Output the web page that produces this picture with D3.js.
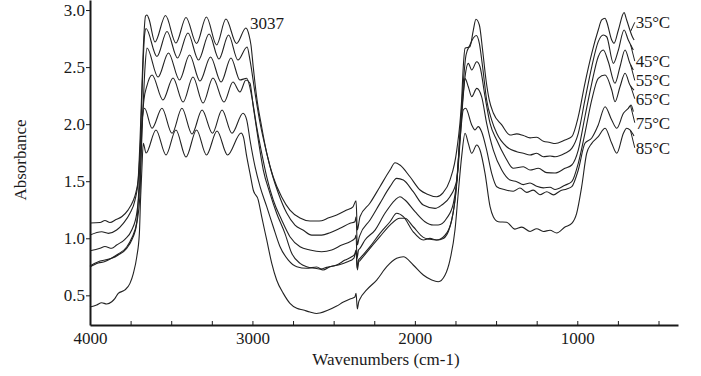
<!DOCTYPE html>
<html><head><meta charset="utf-8">
<script src="https://cdn.jsdelivr.net/npm/d3@7"></script>
<style>
body{margin:0;background:#fff}
svg{display:block}
svg text{font-family:"Liberation Serif","Times New Roman",serif !important;fill:#1a1a1a}
</style>
</head><body>
<svg id="c" width="701" height="376"></svg>
<script>
// ---------- data ----------
const temps = ["35°C","45°C","55°C","65°C","75°C","85°C"];
const xTicks = [4000,3750,3500,3250,3000,2750,2500,2250,2000,1750,1500,1250,1000,750,500];
const xTickLabels = [4000,3000,2000,1000];
const yTicks = [0.5,1.0,1.5,2.0,2.5,3.0];

const s35 = [[4000,1.134],[3938,1.138],[3908,1.156],[3877,1.138],[3840,1.164],[3803,1.191],[3766,1.247],[3735,1.326],[3717,1.405],[3704,1.510],[3692,1.861],[3680,2.343],[3668,2.781],[3658,2.948],[3649,2.957],[3637,2.921],[3600,2.720],[3535,2.952],[3471,2.711],[3409,2.935],[3344,2.707],[3283,2.939],[3221,2.694],[3163,2.921],[3098,2.707],[3040,2.843],[3021,2.781],[3009,2.694],[2995,2.501],[2974,2.238],[2943,1.975],[2912,1.747],[2872,1.537],[2820,1.362],[2769,1.247],[2707,1.177],[2646,1.151],[2604,1.151],[2574,1.154],[2535,1.177],[2481,1.204],[2420,1.247],[2381,1.276],[2362,1.329],[2354,1.072],[2344,1.142],[2338,1.189],[2276,1.309],[2215,1.452],[2153,1.598],[2122,1.662],[2092,1.642],[2030,1.539],[1968,1.423],[1927,1.388],[1865,1.364],[1827,1.397],[1784,1.510],[1742,1.773],[1712,2.212],[1702,2.501],[1691,2.665],[1661,2.679],[1640,2.825],[1624,2.919],[1603,2.869],[1583,2.650],[1562,2.387],[1542,2.212],[1517,2.098],[1465,1.993],[1414,1.905],[1373,1.915],[1332,1.900],[1291,1.880],[1250,1.885],[1209,1.850],[1168,1.840],[1137,1.830],[1076,1.862],[1034,1.890],[994,2.065],[953,2.358],[911,2.621],[871,2.825],[850,2.913],[829,2.928],[819,2.898],[788,2.737],[774,2.708],[747,2.825],[712,2.977],[696,2.913],[661,2.766],[650,2.737]];

const s45 = [[4000,1.028],[3928,1.057],[3887,1.043],[3836,1.072],[3795,1.131],[3754,1.219],[3723,1.335],[3703,1.510],[3689,1.861],[3677,2.387],[3664,2.781],[3655,2.838],[3588,2.593],[3526,2.812],[3461,2.580],[3397,2.799],[3332,2.562],[3267,2.790],[3206,2.571],[3147,2.781],[3089,2.562],[3033,2.676],[3015,2.562],[2984,2.273],[2953,2.010],[2912,1.747],[2881,1.572],[2841,1.397],[2789,1.221],[2738,1.116],[2689,1.072],[2635,1.028],[2574,1.028],[2522,1.049],[2461,1.087],[2399,1.131],[2369,1.145],[2362,1.189],[2354,0.941],[2344,1.002],[2338,1.028],[2276,1.160],[2215,1.306],[2153,1.452],[2112,1.525],[2071,1.510],[2010,1.408],[1948,1.291],[1876,1.262],[1835,1.291],[1784,1.364],[1742,1.510],[1722,1.922],[1702,2.358],[1685,2.606],[1661,2.694],[1640,2.755],[1622,2.777],[1603,2.708],[1583,2.503],[1558,2.212],[1527,2.036],[1496,1.920],[1435,1.802],[1373,1.759],[1332,1.745],[1291,1.730],[1250,1.745],[1209,1.715],[1168,1.721],[1137,1.715],[1076,1.745],[1034,1.788],[994,1.920],[953,2.212],[911,2.503],[871,2.723],[840,2.781],[819,2.766],[778,2.533],[747,2.650],[712,2.825],[686,2.737],[655,2.650]];

const s55 = [[4000,0.891],[3938,0.912],[3908,0.928],[3866,0.912],[3836,0.941],[3785,0.991],[3743,1.072],[3712,1.221],[3692,1.510],[3674,2.124],[3661,2.503],[3649,2.667],[3581,2.413],[3517,2.624],[3449,2.387],[3387,2.606],[3323,2.378],[3258,2.589],[3193,2.369],[3132,2.580],[3077,2.387],[3035,2.402],[3004,2.241],[2974,1.978],[2943,1.747],[2912,1.539],[2872,1.335],[2820,1.160],[2769,1.014],[2707,0.926],[2646,0.897],[2574,0.882],[2512,0.897],[2450,0.941],[2399,0.970],[2369,0.999],[2362,1.028],[2356,0.824],[2347,0.897],[2338,0.912],[2307,0.985],[2245,1.072],[2184,1.219],[2122,1.335],[2092,1.364],[2061,1.335],[1999,1.233],[1938,1.145],[1886,1.116],[1856,1.116],[1804,1.175],[1763,1.306],[1733,1.627],[1712,2.065],[1691,2.416],[1671,2.533],[1650,2.475],[1619,2.547],[1599,2.503],[1568,2.241],[1537,2.007],[1496,1.861],[1445,1.715],[1394,1.613],[1332,1.627],[1291,1.598],[1240,1.613],[1188,1.575],[1137,1.572],[1076,1.613],[1034,1.642],[994,1.773],[953,2.065],[911,2.358],[871,2.591],[840,2.650],[809,2.547],[768,2.358],[737,2.503],[706,2.650],[676,2.533],[655,2.475]];

const s65 = [[4000,0.757],[3949,0.795],[3908,0.809],[3866,0.824],[3826,0.853],[3774,0.912],[3743,0.985],[3712,1.131],[3692,1.394],[3682,1.922],[3668,2.212],[3651,2.328],[3618,2.431],[3551,2.212],[3489,2.404],[3427,2.194],[3366,2.413],[3304,2.185],[3243,2.404],[3175,2.194],[3120,2.369],[3077,2.282],[3040,2.387],[3015,2.358],[2995,2.153],[2964,1.861],[2933,1.598],[2892,1.394],[2851,1.219],[2800,1.043],[2758,0.868],[2707,0.780],[2666,0.751],[2615,0.737],[2578,0.730],[2543,0.745],[2481,0.766],[2430,0.809],[2389,0.838],[2369,0.862],[2362,0.882],[2355,0.737],[2347,0.809],[2338,0.824],[2276,0.926],[2215,1.043],[2153,1.145],[2112,1.219],[2071,1.189],[2010,1.057],[1948,0.985],[1907,0.999],[1866,0.985],[1814,1.028],[1773,1.160],[1742,1.482],[1722,1.920],[1702,2.270],[1691,2.400],[1671,2.328],[1650,2.241],[1619,2.314],[1589,2.241],[1558,2.007],[1517,1.773],[1465,1.598],[1414,1.510],[1373,1.496],[1332,1.470],[1291,1.484],[1250,1.455],[1209,1.442],[1168,1.447],[1137,1.428],[1076,1.465],[1034,1.496],[994,1.657],[953,1.920],[911,2.212],[871,2.402],[829,2.431],[788,2.299],[768,2.197],[737,2.328],[706,2.446],[676,2.343],[651,2.299]];

const s75 = [[4000,0.748],[3949,0.783],[3908,0.796],[3866,0.827],[3826,0.862],[3774,0.923],[3743,1.002],[3712,1.142],[3703,1.335],[3682,1.978],[3664,2.139],[3618,1.964],[3557,2.139],[3495,1.920],[3434,2.139],[3372,1.914],[3310,2.124],[3246,1.920],[3187,2.124],[3126,1.920],[3058,2.095],[3035,2.036],[3015,1.861],[2984,1.627],[2953,1.452],[2912,1.277],[2872,1.101],[2830,0.926],[2779,0.809],[2727,0.751],[2666,0.737],[2604,0.748],[2566,0.722],[2522,0.751],[2471,0.766],[2418,0.792],[2375,0.827],[2362,0.897],[2354,0.722],[2346,0.792],[2338,0.805],[2276,0.912],[2215,1.014],[2153,1.116],[2092,1.175],[2061,1.175],[2010,1.101],[1948,1.008],[1907,0.991],[1866,0.985],[1825,0.999],[1784,1.101],[1753,1.335],[1722,1.861],[1702,2.124],[1687,2.139],[1650,1.993],[1630,1.949],[1610,1.978],[1589,1.934],[1558,1.773],[1527,1.569],[1496,1.452],[1445,1.425],[1394,1.412],[1353,1.440],[1312,1.402],[1271,1.422],[1230,1.382],[1188,1.408],[1147,1.380],[1106,1.415],[1065,1.432],[1034,1.452],[994,1.598],[953,1.832],[911,1.879],[871,1.993],[829,2.153],[788,2.036],[757,1.964],[716,2.095],[686,2.139],[669,2.168],[655,2.109]];

const s85 = [[4000,0.397],[3959,0.415],[3928,0.435],[3897,0.424],[3866,0.444],[3846,0.474],[3826,0.517],[3785,0.547],[3754,0.605],[3733,0.693],[3712,0.838],[3696,1.043],[3689,1.335],[3680,1.627],[3672,1.832],[3655,1.747],[3594,1.949],[3532,1.730],[3471,1.949],[3409,1.712],[3344,1.949],[3283,1.730],[3218,1.940],[3153,1.730],[3070,1.922],[3056,1.890],[3035,1.715],[3015,1.569],[2995,1.423],[2964,1.335],[2943,1.189],[2912,0.985],[2881,0.780],[2851,0.634],[2810,0.517],[2769,0.430],[2727,0.386],[2687,0.371],[2646,0.354],[2604,0.341],[2584,0.345],[2533,0.371],[2481,0.406],[2440,0.441],[2399,0.468],[2369,0.485],[2362,0.517],[2354,0.380],[2346,0.441],[2338,0.468],[2297,0.547],[2235,0.634],[2173,0.751],[2112,0.824],[2071,0.838],[2010,0.766],[1948,0.678],[1896,0.634],[1856,0.619],[1814,0.678],[1784,0.809],[1753,1.072],[1733,1.394],[1712,1.715],[1691,1.920],[1671,1.832],[1650,1.745],[1619,1.817],[1599,1.773],[1568,1.569],[1537,1.277],[1517,1.189],[1486,1.145],[1435,1.140],[1384,1.080],[1342,1.098],[1291,1.060],[1250,1.084],[1209,1.060],[1168,1.070],[1127,1.046],[1076,1.098],[1034,1.131],[1004,1.219],[973,1.452],[942,1.745],[911,1.832],[871,1.890],[829,1.964],[788,1.832],[757,1.745],[716,1.920],[696,1.964],[676,1.949],[661,1.920],[651,1.896]];

const series = [s35, s45, s55, s65, s75, s85];
const labelAbs = [2.84, 2.50, 2.33, 2.17, 1.96, 1.74];
const labelWn = 640;
const leaderWn = 672;
const peakLabel = {text: "3037", wn: 3015, abs: 2.835};

// ---------- chart ----------
const FONT = '"Liberation Serif","Times New Roman",serif';
const svg = d3.select("#c");
const x = d3.scaleLinear().domain([4000, 380]).range([90, 678]);
const y = d3.scaleLinear().domain([0.24, 3.088]).range([325, 0]);
const ink = "#1a1a1a";

const line = d3.line().x(d => x(d[0])).y(d => y(d[1])).curve(d3.curveMonotoneX);

svg.append("g").selectAll("path").data(series).join("path")
  .attr("d", line).attr("fill", "none").attr("stroke", "#222").attr("stroke-width", 1.1);

// x axis
const xAxis = d3.axisBottom(x).tickValues(xTicks).tickSizeInner(-4).tickSizeOuter(0).tickPadding(7)
  .tickFormat(d => xTickLabels.includes(d) ? String(d) : "");
const gx = svg.append("g").attr("transform", "translate(0,325)").call(xAxis)
  .attr("font-family", null).attr("font-size", null);
gx.select(".domain").attr("stroke", ink).attr("stroke-width", 2);
gx.selectAll(".tick line").attr("stroke", ink).attr("stroke-width", 1);
gx.selectAll(".tick text").style("font-family", FONT).style("font-size", "17px").attr("fill", ink);

// y axis
const yAxis = d3.axisLeft(y).tickValues(yTicks).tickSizeInner(4).tickSizeOuter(0).tickPadding(1)
  .tickFormat(d3.format(".1f"));
const gy = svg.append("g").attr("transform", "translate(90,0)").call(yAxis)
  .attr("font-family", null).attr("font-size", null);
gy.select(".domain").attr("stroke", ink).attr("stroke-width", 2);
gy.selectAll(".tick line").attr("stroke", ink).attr("stroke-width", 1);
gy.selectAll(".tick text").style("font-family", FONT).style("font-size", "17px").attr("fill", ink);

// axis titles
svg.append("text").attr("x", 386).attr("y", 365).attr("text-anchor", "middle")
  .style("font-family", FONT).style("font-size", "17px").text("Wavenumbers (cm-1)");
svg.append("text").attr("transform", "translate(26,160) rotate(-90)").attr("text-anchor", "middle")
  .style("font-family", FONT).style("font-size", "17px").text("Absorbance");

// peak annotation
svg.append("text").attr("x", x(peakLabel.wn)).attr("y", y(peakLabel.abs))
  .style("font-family", FONT).style("font-size", "17px").text(peakLabel.text);

// temperature labels with leaders
function interp(s, w) {
  for (let i = 0; i < s.length - 1; i++) {
    if (s[i][0] >= w && s[i + 1][0] <= w) {
      const t = (s[i][0] - w) / (s[i][0] - s[i + 1][0]);
      return s[i][1] + t * (s[i + 1][1] - s[i][1]);
    }
  }
  return s[s.length - 1][1];
}
series.forEach((s, i) => {
  const ly = y(labelAbs[i]);
  svg.append("line")
    .attr("x1", x(leaderWn)).attr("y1", y(interp(s, leaderWn)))
    .attr("x2", x(labelWn) - 1).attr("y2", ly - 6)
    .attr("stroke", "#222").attr("stroke-width", 1);
  svg.append("text").attr("x", x(labelWn)).attr("y", ly)
    .style("font-family", FONT).style("font-size", "17px").style("letter-spacing", "-0.3px").text(temps[i]);
});
</script>
</body></html>
